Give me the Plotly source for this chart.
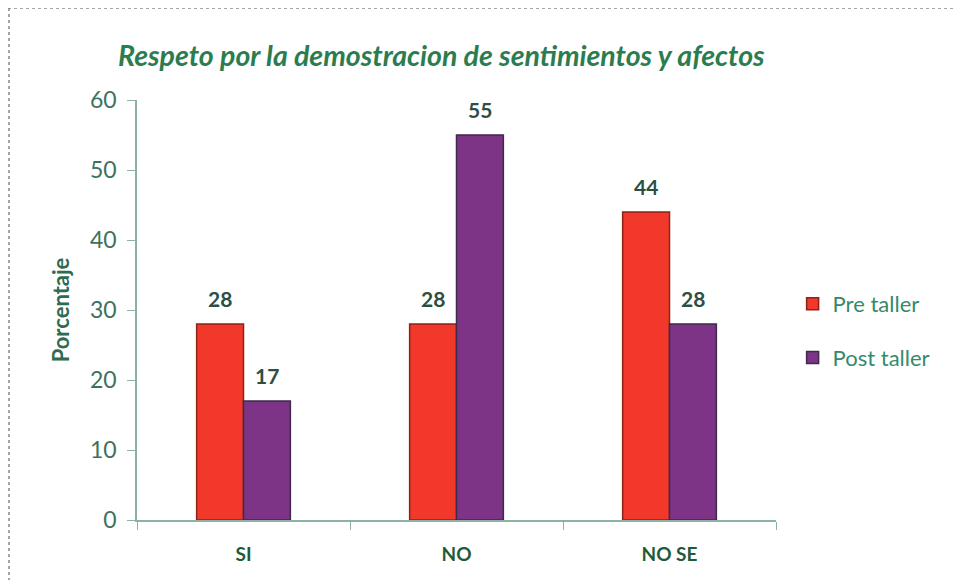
import plotly.graph_objects as go

categories = ['SI', 'NO', 'NO SE']
pre_taller = [28, 28, 44]
post_taller = [17, 55, 28]
series_names = ['Pre taller', 'Post taller']
y_ticks = [0, 10, 20, 30, 40, 50, 60]

red = '#f2382a'
purple = '#7d3486'
txt = '#3b7262'

fig = go.Figure()
fig.add_trace(go.Bar(x=categories, y=pre_taller, name=series_names[0], legendgroup='a',
                     marker=dict(color=red, line=dict(color='#8a2418', width=1.5))))
fig.add_trace(go.Bar(x=categories, y=post_taller, name=series_names[1], legendgroup='b',
                     marker=dict(color=purple, line=dict(color='#3e2a4a', width=1.5))))

# value labels above each bar
half = 23.5
for vals, dx in [(pre_taller, -half), (post_taller, half)]:
    for c, v in zip(categories, vals):
        fig.add_annotation(x=c, y=v, text='<b>%d</b>' % v, showarrow=False,
                           xshift=dx, yshift=26, font=dict(size=21, color='#2c4f45'))

# page body adds 8px, so margins are 8px smaller than the target positions
fig.update_layout(
    width=962, height=580,
    margin=dict(l=129, r=194, t=92, b=68),
    paper_bgcolor='white', plot_bgcolor='white',
    font=dict(family='Lato, Open Sans, sans-serif', color=txt),
    barmode='group', bargap=0.56, bargroupgap=0,
    title=dict(text='<b><i>Respeto por la demostracion de sentimientos y afectos</i></b>',
               x=110 / 962, xanchor='left', y=1 - 48 / 580, yanchor='middle',
               font=dict(size=28.5, color='#2b7d4f')),
    legend=dict(x=1.026, y=0.45, xanchor='left', yanchor='middle',
                font=dict(size=22, color='#348a6c'), tracegroupgap=22,
                bgcolor='rgba(0,0,0,0)'),
    showlegend=True,
)
fig.update_xaxes(showline=True, linecolor='#8fb0a5', linewidth=1.5,
                 ticks='outside', tickson='boundaries', ticklen=8, tickcolor='#8fb0a5',
                 tickfont=dict(size=19, color='#1f5a3a', family='Lato'),
                 ticklabelstandoff=16, tickprefix='<b>', ticksuffix='</b>')
fig.update_yaxes(range=[0, 60], tickvals=y_ticks, showgrid=False, zeroline=False,
                 showline=True, linecolor='#8fb0a5', linewidth=1.5,
                 ticks='outside', ticklen=8, tickcolor='#8fb0a5',
                 tickfont=dict(size=23, color=txt), ticklabelstandoff=6,
                 title=dict(text='<b>Porcentaje</b>', font=dict(size=22, color='#2f6b50'),
                            standoff=14))

# scanned frame edges (top and left)
fig.add_shape(type='line', xref='paper', yref='paper', x0=-129 / 639, x1=1 + 194 / 639,
              y0=1 + 92 / 420, y1=1 + 92 / 420, line=dict(color='#888', width=1.5, dash='dot'))
fig.add_shape(type='line', xref='paper', yref='paper', x0=-128 / 639, x1=-128 / 639,
              y0=1 + 92 / 420, y1=-68 / 420, line=dict(color='#888', width=1.5, dash='dot'))

fig.write_html('out.html')
